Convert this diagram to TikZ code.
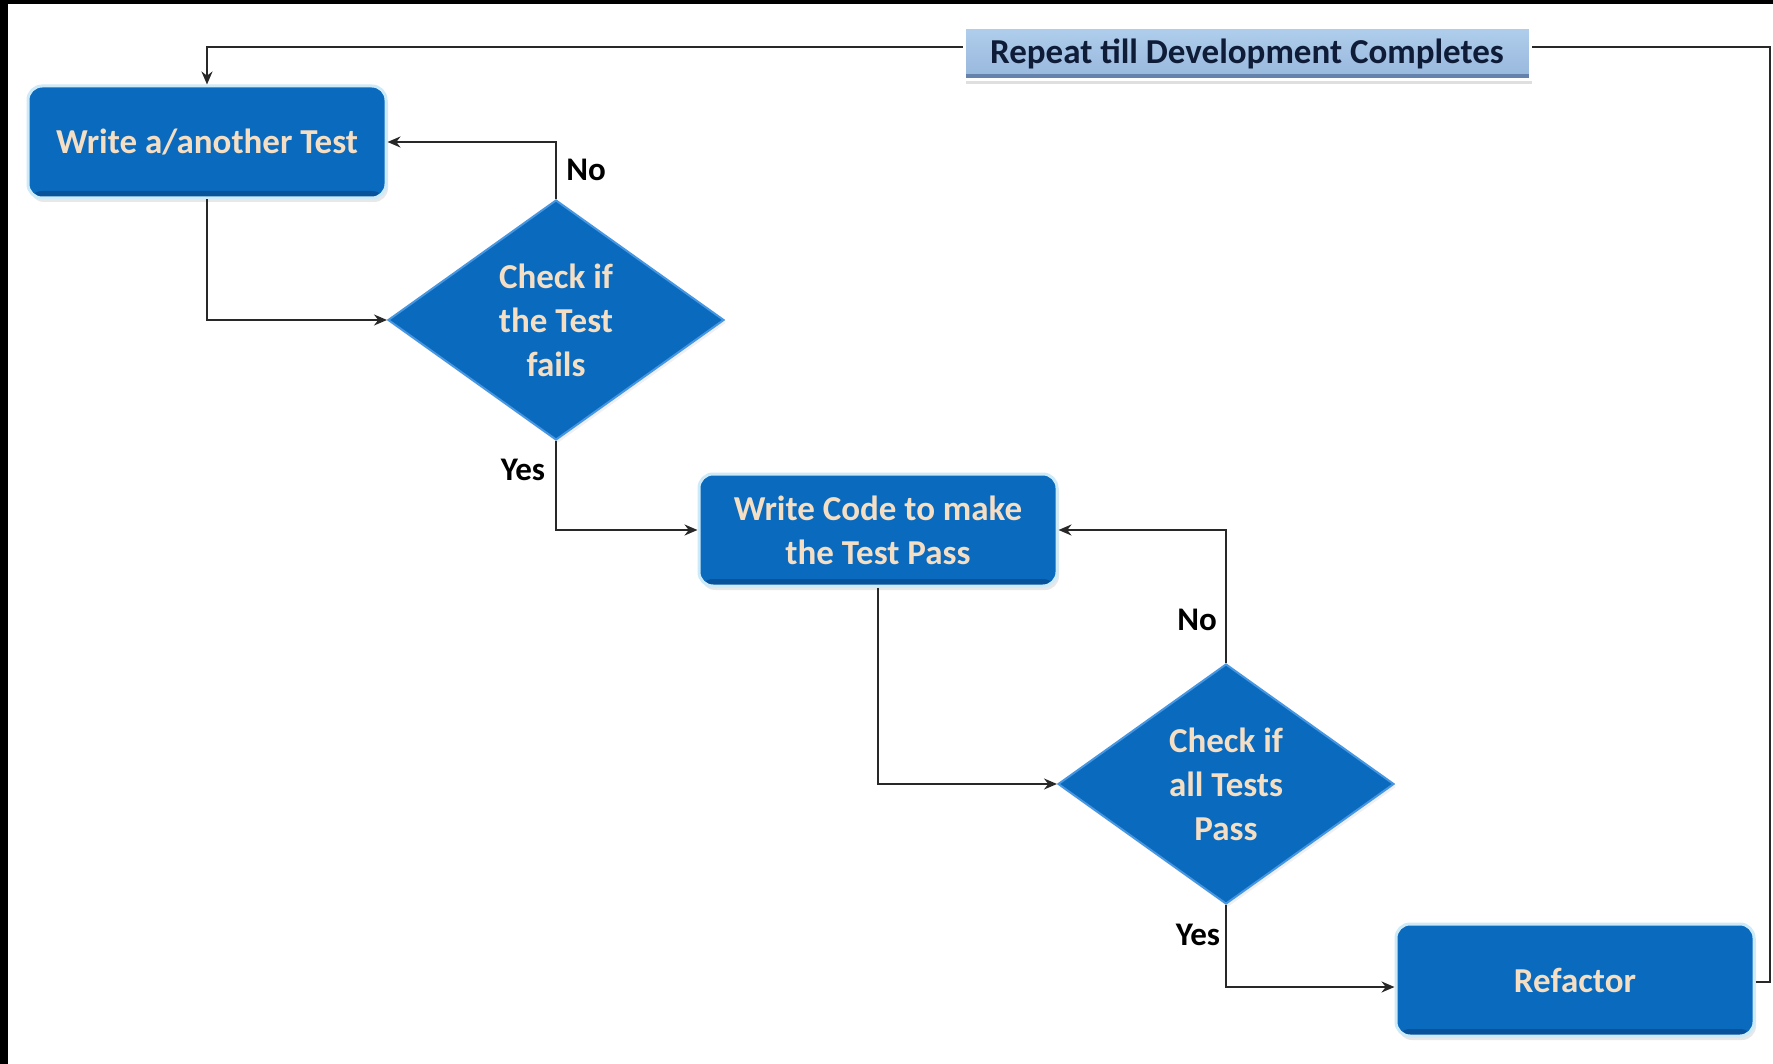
\documentclass[tikz,border=0pt]{standalone}
\usepackage{fontspec}
\setmainfont{Carlito}
\usetikzlibrary{shapes.geometric,shadows,arrows.meta,calc}
\definecolor{boxblue}{RGB}{10,106,190}
\definecolor{boxdark}{RGB}{8,82,156}
\definecolor{boxedge}{RGB}{70,150,225}
\definecolor{glow}{RGB}{205,234,248}
\definecolor{txtpeach}{RGB}{244,222,196}
\definecolor{bannertop}{RGB}{176,206,236}
\definecolor{bannerbot}{RGB}{150,182,220}
\definecolor{bannerdark}{RGB}{100,130,172}
\definecolor{bannertxt}{RGB}{14,28,56}
\definecolor{linegray}{RGB}{40,40,40}
\begin{document}
\begin{tikzpicture}[x=1pt,y=-1pt,
  font=\fontsize{35}{44}\selectfont\bfseries,
  procbox/.style={rectangle, rounded corners=14pt, fill=boxblue, draw=glow,
    line width=3pt, text=txtpeach, align=center, minimum width=358pt,
    minimum height=112pt, inner sep=0pt,
    drop shadow={opacity=0.18, shadow xshift=2pt, shadow yshift=-4pt},
    path picture={\fill[boxdark] ([yshift=7pt]path picture bounding box.south west) rectangle (path picture bounding box.south east);}},
  decision/.style={diamond, aspect=1.4, fill=boxblue, draw=boxedge,
    line width=2pt, text=txtpeach, align=center, minimum width=336pt,
    minimum height=240pt, inner sep=0pt,
    drop shadow={opacity=0.12, shadow xshift=2pt, shadow yshift=-3pt}},
  banner/.style={rectangle, draw=white, line width=3pt,
    top color=bannertop, bottom color=bannerbot, text=bannertxt,
    minimum width=566pt, minimum height=52pt, inner sep=0pt,
    drop shadow={opacity=0.25, shadow xshift=2pt, shadow yshift=-4pt},
    path picture={\fill[bannerdark] ([yshift=6pt]path picture bounding box.south west) rectangle (path picture bounding box.south east);}},
  arr/.style={draw=linegray, line width=1.7pt, -{Stealth[length=13pt,width=11pt]}},
  plain/.style={draw=linegray, line width=1.7pt},
  lbl/.style={text=black, font=\fontsize{33}{40}\selectfont\bfseries, inner sep=0pt}
]
\useasboundingbox (0,0) rectangle (1773,1064);
\fill[white] (0,0) rectangle (1773,1064);
\fill[black] (0,0) rectangle (1773,4);
\fill[black] (0,0) rectangle (8,1064);

% nodes
\node[procbox] (write) at (207,142) {Write a/another Test};
\node[decision] (d1) at (556,320) {Check if\\the Test\\fails};
\node[procbox] (code) at (878,530) {Write Code to make\\the Test Pass};
\node[decision] (d2) at (1226,784) {Check if\\all Tests\\Pass};
\node[procbox] (refactor) at (1575,980) {Refactor};

\coordinate (loopR) at (1770,47);
\coordinate (loopL) at (207,47);

% connectors
\draw[arr] (write.south) |- (d1.west);
\draw[arr] (d1.north) |- (write.east);
\draw[arr] (d1.south) |- (code.west);
\draw[arr] (code.south) |- (d2.west);
\draw[arr] (d2.north) |- (code.east);
\draw[arr] (d2.south) |- ([yshift=-7pt]refactor.west);
\draw[arr] ([yshift=-2pt]refactor.east) -| (loopR) -- (loopL) -- (write.north);

% banner over the loop line
\node[banner] (banner) at (1247,54) {Repeat till Development Completes};

% labels
\node[lbl] (no1) at (586,170) {No};
\node[lbl] (yes1) at (523,470) {Yes};
\node[lbl] (no2) at (1197,620) {No};
\node[lbl] (yes2) at (1198,935) {Yes};
\end{tikzpicture}
\end{document}
